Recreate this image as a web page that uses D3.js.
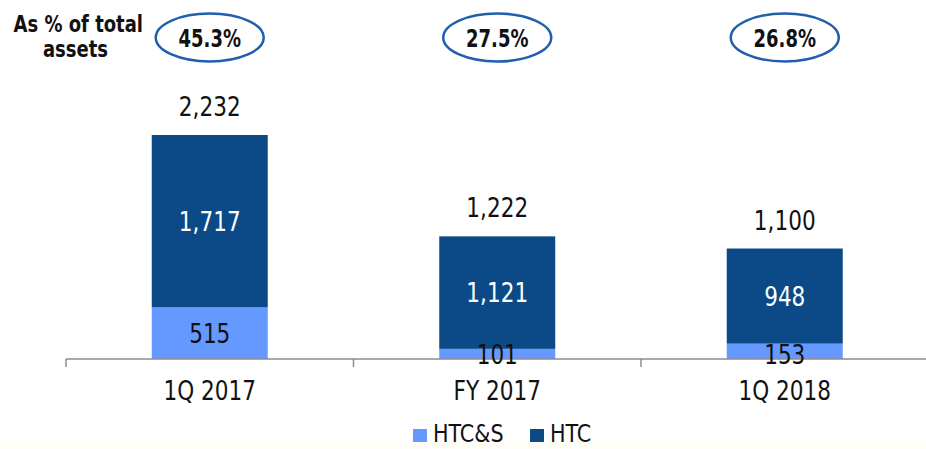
<!DOCTYPE html>
<html>
<head>
<meta charset="UTF-8">
<style>
  body { margin: 0; background: #fff; }
  svg { display: block; font-family: Tahoma, 'DejaVu Sans Condensed', 'DejaVu Sans', sans-serif; }
</style>
</head>
<body>
<svg id="chart" width="926" height="449"></svg>
<script src="https://cdnjs.cloudflare.com/ajax/libs/d3/7.8.5/d3.min.js"></script>
<script>
const categories = ["1Q 2017", "FY 2017", "1Q 2018"];
const htcs = [515, 101, 153];
const htc = [1717, 1121, 948];
const totals = [2232, 1222, 1100];
const shares = ["45.3%", "27.5%", "26.8%"];
const seriesNames = ["HTC&S", "HTC"];
const colors = ["#6699ff", "#0b4a87"];

const svg = d3.select("#chart");
const fmt = d3.format(",");

// text slightly stretched vertically, like the original
function label(x, y, str, size, opts = {}) {
  return svg.append("text")
    .attr("transform", `translate(${x},${y}) scale(1,${opts.sy || 1.1})`)
    .attr("text-anchor", opts.anchor || "middle")
    .attr("font-size", size)
    .attr("font-weight", opts.bold ? "bold" : "normal")
    .attr("fill", opts.fill || "#111")
    .text(str);
}

// faint band at the bottom
svg.append("rect").attr("x", 0).attr("y", 441).attr("width", 926).attr("height", 8)
  .attr("fill", "#fefdf6");

const x = d3.scaleBand().domain(categories).range([66, 928.5]).padding(0);
const y = d3.scaleLinear().domain([0, 2232]).range([359, 135]);
const barW = 116;

const rows = categories.map((c, i) => ({ cat: c, vals: [htcs[i], htc[i]] }));
const layers = d3.stack().keys([0, 1]).value((d, k) => d.vals[k])(rows);

layers.forEach((layer, k) => {
  svg.append("g").selectAll("rect").data(layer).enter().append("rect")
    .attr("x", d => x(d.data.cat) + x.bandwidth() / 2 - barW / 2)
    .attr("width", barW)
    .attr("y", d => y(d[1]))
    .attr("height", d => y(d[0]) - y(d[1]))
    .attr("fill", colors[k]);
});

// axis line + ticks
svg.append("line").attr("x1", 66).attr("x2", 926).attr("y1", 359).attr("y2", 359)
  .attr("stroke", "#8c8c8c").attr("stroke-width", 1.5);
[0, 1, 2].forEach(i => {
  const tx = 66 + i * x.bandwidth();
  svg.append("line").attr("x1", tx).attr("x2", tx).attr("y1", 359).attr("y2", 367)
    .attr("stroke", "#8c8c8c").attr("stroke-width", 1.5);
});

categories.forEach((c, i) => {
  const cx = x(c) + x.bandwidth() / 2;
  label(cx, 400, c, 24);

  // segment labels
  const lowY = htcs[i] < 300 ? 364 : (y(0) + y(htcs[i])) / 2 + 9.5;
  label(cx, lowY, fmt(htcs[i]), 24);
  label(cx, (y(htcs[i]) + y(totals[i])) / 2 + 9.5, fmt(htc[i]), 24, { fill: "#fff" });
  label(cx, y(totals[i]) - 19, fmt(totals[i]), 24);

  // oval with share of total assets
  svg.append("ellipse").attr("cx", cx).attr("cy", 37.5).attr("rx", 54).attr("ry", 24)
    .attr("fill", "#fff").attr("stroke", "#1f5fae").attr("stroke-width", 2.5);
  label(cx, 47, shares[i], 20, { bold: true, sy: 1.22 });
});

label(143, 32, "As % of total", 20, { bold: true, anchor: "end", sy: 1.15 });
label(108, 57, "assets", 20, { bold: true, anchor: "end", sy: 1.15 });

// legend
const legX = [413, 530];
seriesNames.forEach((n, k) => {
  svg.append("rect").attr("x", legX[k]).attr("y", 429).attr("width", 14).attr("height", 13)
    .attr("fill", colors[k]);
  label(legX[k] + 20, 442, n, 23, { anchor: "start", sy: 1.1 });
});
</script>
</body>
</html>
